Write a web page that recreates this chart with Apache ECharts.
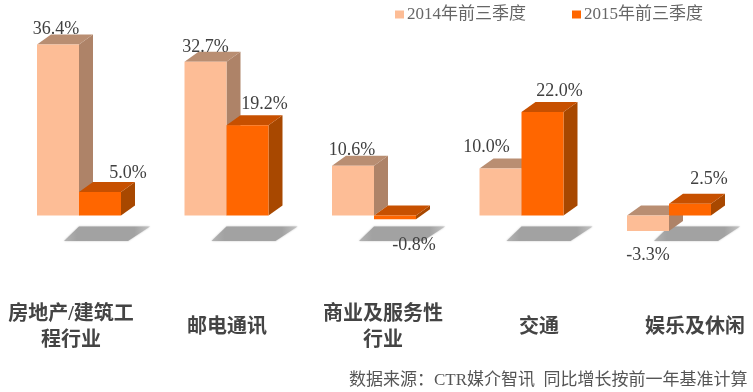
<!DOCTYPE html>
<html><head><meta charset="utf-8">
<style>html,body{margin:0;padding:0;background:#fff}#c{width:753px;height:392px}</style>
<script src="https://cdn.jsdelivr.net/npm/echarts@6/dist/echarts.min.js"></script>
</head><body><div id="c"></div>
<script>
const categories = ['房地产/建筑工\n程行业', '邮电通讯', '商业及服务性\n行业', '交通', '娱乐及休闲'];
const seriesNames = ['2014年前三季度', '2015年前三季度'];
const values2014 = [36.4, 32.7, 10.6, 10.0, -3.3];
const values2015 = [5.0, 19.2, -0.8, 22.0, 2.5];
const sourceNote = '数据来源：CTR媒介智讯  同比增长按前一年基准计算';

const serif = '"Liberation Serif","Noto Sans CJK SC",serif';
const BAR = 42, DX = 14, DY = 10;
const paletteA = {front:'#FDBD96', top:'#B98E72', side:'#AE8368'};
const paletteB = {front:'#FF6600', top:'#C75000', side:'#A84800'};
// label nudges [dx, dy] from the bar's centre / value end, in pixels
const nudgeA = [[-2,-15],[0,-15],[-1,-15],[-14,-21],[0,24]];
const nudgeB = [[28,-19],[17,-21],[19,26],[17,-21],[19,-24]];

function barRenderer(side, pal, nudge, withShadow){
  return function(params, api){
    const i = api.value(0), v = api.value(1);
    const c0 = api.coord([i, 0]), c1 = api.coord([i, v]);
    const x0 = c0[0] + (side < 0 ? -BAR : 0), x1 = x0 + BAR;
    const yBase = c0[1], yVal = c1[1];
    const yTop = Math.min(yBase, yVal), yBot = Math.max(yBase, yVal);
    const children = [];
    if (withShadow) {
      const sTop = yBase + 11, sBot = yBase + 25.5, cx = c0[0];
      children.push({type:'polygon', shape:{points:[[cx-15,sBot],[cx+49,sBot],[cx+71,sTop],[cx,sTop]]},
        style:{fill:{type:'linear',x:0,y:0,x2:1,y2:0,colorStops:[{offset:0,color:'#B4B4B4'},{offset:0.15,color:'#A2A2A2'},{offset:0.82,color:'#A2A2A2'},{offset:1,color:'#C4C4C4'}]},
          shadowBlur:2, shadowColor:'#C0C0C0'}});
    }
    children.push({type:'polygon', shape:{points:[[x1,yTop],[x1+DX,yTop-DY],[x1+DX,yBot-DY],[x1,yBot]]}, style:{fill:pal.side}});
    children.push({type:'polygon', shape:{points:[[x0,yTop],[x0+DX,yTop-DY],[x1+DX,yTop-DY],[x1,yTop]]}, style:{fill:pal.top}});
    children.push({type:'rect', shape:{x:x0, y:yTop, width:BAR, height:yBot-yTop}, style:{fill:pal.front}});
    const n = nudge[params.dataIndex];
    children.push({type:'text', z2:10, style:{
      x:(x0+x1)/2 + n[0], y:yVal + n[1], text:v.toFixed(1)+'%', align:'center', verticalAlign:'middle',
      font:'18px '+serif, fill:'#404040'}});
    return {type:'group', children};
  };
}
const pairs = a => a.map((v,i)=>[i,v]);

const chart = echarts.init(document.getElementById('c'));
chart.setOption({
  animation:false,
  backgroundColor:'#fff',
  grid:[{left:5.25, top:27.5, width:737.5, height:235, outerBoundsMode:'none'},
        {left:-7, top:27.5, width:780, height:235, outerBoundsMode:'none'}],
  xAxis:[
    {type:'category', gridIndex:0, data:categories, show:false},
    {type:'category', gridIndex:1, data:categories, axisLine:{show:false}, axisTick:{show:false},
     axisLabel:{interval:0, margin:65, verticalAlign:'middle', lineHeight:26, fontSize:20, fontWeight:'bold',
       color:'#444', fontFamily:serif}}
  ],
  yAxis:[
    {type:'value', gridIndex:0, min:-10, max:40, show:false},
    {type:'value', gridIndex:1, min:-10, max:40, show:false}
  ],
  legend:{
    left:390, top:1, icon:'rect', itemWidth:9, itemHeight:8, itemGap:46,
    data:seriesNames, textStyle:{fontSize:17, color:'#666', fontFamily:serif, padding:[0,0,0,-2]}
  },
  title:{text:sourceNote, left:349, top:372, padding:0, textStyle:{fontSize:17, fontWeight:'normal', color:'#555', fontFamily:serif}},
  series:[
    {type:'custom', name:seriesNames[0], xAxisIndex:0, yAxisIndex:0, data:pairs(values2014), encode:{x:0,y:1},
     itemStyle:{color:paletteA.front}, renderItem:barRenderer(-1,paletteA,nudgeA,true), clip:false},
    {type:'custom', name:seriesNames[1], xAxisIndex:0, yAxisIndex:0, data:pairs(values2015), encode:{x:0,y:1},
     itemStyle:{color:paletteB.front}, renderItem:barRenderer(1,paletteB,nudgeB,false), clip:false}
  ]
});
</script></body></html>
